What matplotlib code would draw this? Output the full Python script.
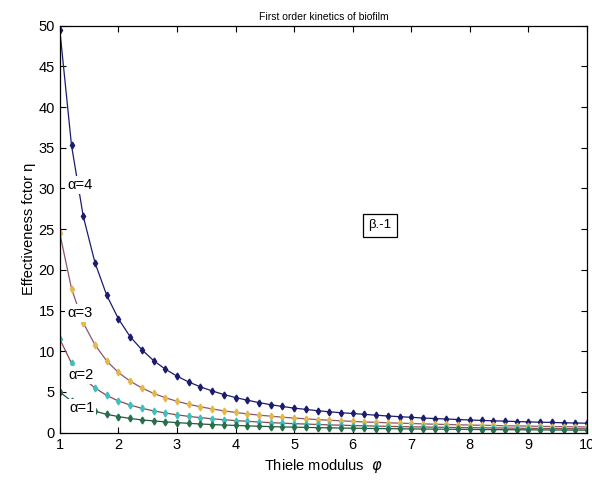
import numpy as np
import matplotlib
matplotlib.use('Agg')
from matplotlib import pyplot as plt

plt.rcParams['font.family'] = ['Liberation Sans', 'DejaVu Sans']

# Thiele modulus, 1 to 10 in steps of 0.2
phi = [1.0, 1.2, 1.4, 1.6, 1.8, 2.0, 2.2, 2.4, 2.6, 2.8,
       3.0, 3.2, 3.4, 3.6, 3.8, 4.0, 4.2, 4.4, 4.6, 4.8,
       5.0, 5.2, 5.4, 5.6, 5.8, 6.0, 6.2, 6.4, 6.6, 6.8,
       7.0, 7.2, 7.4, 7.6, 7.8, 8.0, 8.2, 8.4, 8.6, 8.8,
       9.0, 9.2, 9.4, 9.6, 9.8, 10.0]

eta_a4 = [49.5, 35.3, 26.6, 20.9, 16.9, 14.0, 11.8, 10.2, 8.86, 7.81,
          6.95, 6.23, 5.63, 5.13, 4.69, 4.32, 3.99, 3.70, 3.44, 3.22,
          3.02, 2.86, 2.70, 2.57, 2.45, 2.36, 2.25, 2.15, 2.05, 1.97,
          1.89, 1.80, 1.74, 1.68, 1.62, 1.56, 1.51, 1.46, 1.42, 1.37,
          1.33, 1.29, 1.26, 1.22, 1.19, 1.17]
eta_a3 = [24.5, 17.7, 13.5, 10.8, 8.82, 7.40, 6.33, 5.50, 4.83, 4.30,
          3.86, 3.49, 3.18, 2.92, 2.68, 2.49, 2.31, 2.16, 2.03, 1.90,
          1.80, 1.70, 1.61, 1.53, 1.46, 1.39, 1.32, 1.27, 1.22, 1.17,
          1.13, 1.08, 1.04, 1.01, 0.97, 0.94, 0.91, 0.89, 0.85, 0.83,
          0.81, 0.78, 0.76, 0.74, 0.72, 0.70]
eta_a2 = [11.5, 8.54, 6.69, 5.50, 4.58, 3.90, 3.40, 3.00, 2.68, 2.42,
          2.20, 2.00, 1.85, 1.71, 1.59, 1.49, 1.40, 1.31, 1.24, 1.17,
          1.11, 1.06, 1.01, 0.96, 0.92, 0.88, 0.85, 0.81, 0.78, 0.75,
          0.72, 0.70, 0.68, 0.66, 0.63, 0.62, 0.60, 0.59, 0.57, 0.55,
          0.53, 0.52, 0.51, 0.50, 0.49, 0.48]
eta_a1 = [5.0, 3.88, 3.14, 2.63, 2.26, 1.98, 1.75, 1.57, 1.45, 1.33,
          1.24, 1.15, 1.07, 1.00, 0.94, 0.89, 0.84, 0.79, 0.75, 0.71,
          0.68, 0.65, 0.62, 0.60, 0.57, 0.55, 0.53, 0.51, 0.50, 0.48,
          0.46, 0.45, 0.44, 0.43, 0.41, 0.40, 0.39, 0.38, 0.37, 0.36,
          0.35, 0.34, 0.33, 0.32, 0.32, 0.31]

fig = plt.figure(figsize=(5.92, 4.82), dpi=100)
ax = fig.add_axes([0.101, 0.1023, 0.8906, 0.8444])

ax.plot(phi, eta_a4, '-d', color='#1c1c6e', mfc='#1c1c6e', mec='#1c1c6e', ms=3.5, lw=0.9)
ax.plot(phi, eta_a3, '-d', color='#8a5570', mfc='#e3b94c', mec='#e3b94c', ms=3.5, lw=0.9)
ax.plot(phi, eta_a2, '-d', color='#8a4a4a', mfc='#3fbfbf', mec='#3fbfbf', ms=3.5, lw=0.9)
ax.plot(phi, eta_a1, '-d', color='#1f5a3e', mfc='#2a6e4c', mec='#2a6e4c', ms=3.5, lw=0.9)

lab = dict(fontsize=10.5, ha='left', va='center', zorder=5,
           bbox=dict(fc='white', ec='none', pad=1.5))
ax.text(1.13, 30.4, 'α=4', **lab)
ax.text(1.13, 14.7, 'α=3', **lab)
ax.text(1.14, 7.1, 'α=2', **lab)
ax.text(1.16, 3.0, 'α=1', **lab)

ax.text(6.46, 25.5, 'β.-1', fontsize=9.5, ha='center', va='center',
        bbox=dict(fc='white', ec='black', lw=0.9, pad=4))

ax.set_xlim(1, 10)
ax.set_ylim(0, 50)
ax.set_xticks(range(1, 11))
ax.set_yticks(range(0, 51, 5))
ax.tick_params(direction='in', top=True, right=True, labelsize=10.5, length=4)
for s in ax.spines.values():
    s.set_linewidth(0.9)

ax.set_title('First order kinetics of biofilm', fontsize=7.5, pad=4)
ax.set_xlabel(r'Thiele modulus  $\varphi$', fontsize=10.5, labelpad=4)
ax.set_ylabel('Effectiveness fctor η', fontsize=10.5, labelpad=2)

fig.savefig('out.png', dpi=100)
